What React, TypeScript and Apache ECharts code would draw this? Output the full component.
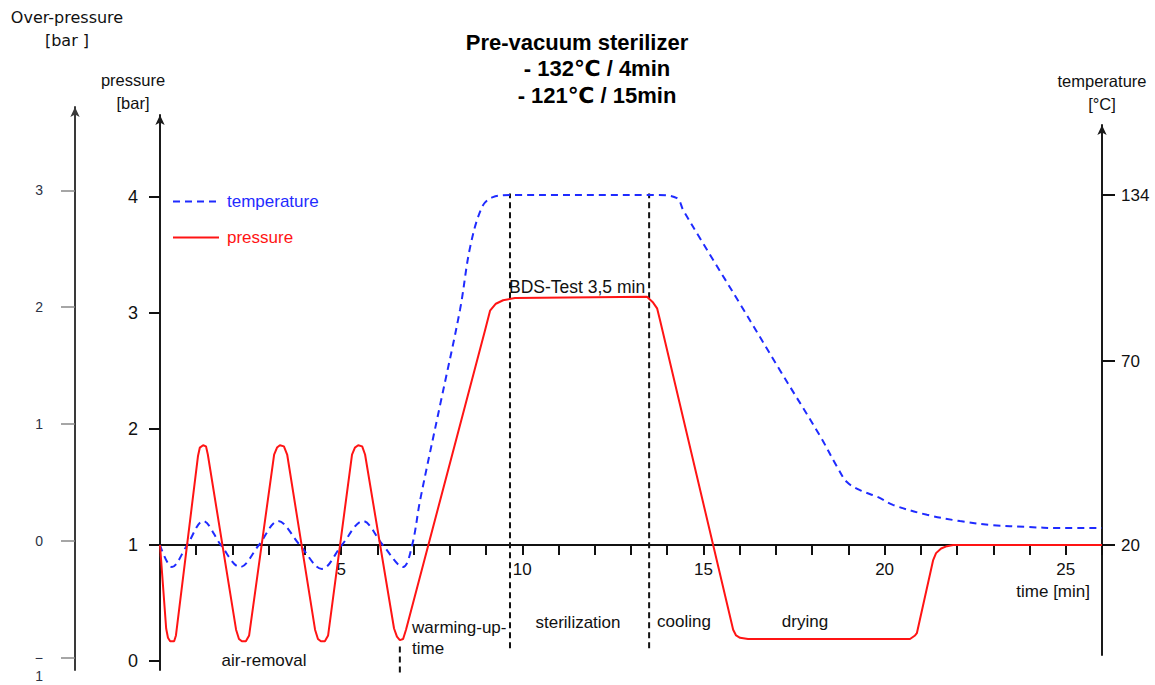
import React, { useEffect, useRef } from "react";
import * as echarts from "echarts";

// ---- data ----
const pressureTicks = [0, 1, 2, 3, 4];
const overPressureTicks = [-1, 0, 1, 2, 3];
const timeLabels = [5, 10, 15, 20, 25];
const temperatureTicks = [20, 70, 134];

// [time min, pressure bar]
const pressureCurve = [
  [0, 1.0], [0.17, 0.28], [0.22, 0.2], [0.28, 0.17], [0.39, 0.17], [0.44, 0.22],
  [1.05, 1.77], [1.1, 1.84], [1.19, 1.86], [1.27, 1.85], [1.32, 1.78],
  [2.1, 0.27], [2.18, 0.19], [2.26, 0.17], [2.37, 0.17], [2.46, 0.22],
  [3.15, 1.78], [3.23, 1.84], [3.31, 1.86], [3.42, 1.85], [3.51, 1.78],
  [4.28, 0.27], [4.36, 0.19], [4.44, 0.17], [4.55, 0.17], [4.64, 0.22],
  [5.3, 1.78], [5.38, 1.84], [5.47, 1.86], [5.58, 1.85], [5.66, 1.78],
  [6.46, 0.28], [6.54, 0.21], [6.62, 0.18], [6.71, 0.19], [6.79, 0.27],
  [8.97, 2.85], [9.11, 3.02], [9.27, 3.08], [9.47, 3.11], [9.8, 3.13],
  [13.44, 3.14], [13.61, 3.09], [13.72, 3.04], [13.8, 2.94],
  [15.82, 0.27], [15.9, 0.22], [16.01, 0.2], [16.23, 0.19],
  [20.7, 0.19], [20.84, 0.22], [20.89, 0.24], [21.34, 0.87], [21.42, 0.93],
  [21.56, 0.97], [21.72, 0.99], [21.89, 1.0], [26, 1.0],
];

// [time min, temperature °C]
const temperatureCurve = [
  [0, 20], [0.33, 14.0], [0.75, 20], [1.19, 26.5], [1.68, 20], [2.21, 14.0],
  [2.73, 20], [3.26, 26.5], [3.86, 20], [4.47, 13.5], [5.02, 20], [5.6, 26.5],
  [6.15, 20], [6.71, 14.0], [6.96, 20], [7.18, 32.2], [7.73, 58.0], [8.28, 89.7],
  [8.56, 113.9], [8.89, 129.4], [9.19, 133.2], [9.66, 134], [13.72, 134],
  [14.27, 132.8], [14.44, 128.2], [14.9, 117.4], [16.01, 92.0], [17.11, 67.5],
  [18.22, 49.6], [18.69, 41.2], [18.96, 37.1], [19.32, 34.9], [19.82, 33.0],
  [20.23, 30.9], [21.17, 28.2], [22.08, 26.5], [22.99, 25.4], [23.93, 24.9],
  [24.84, 24.6], [26, 24.6],
];

// phase boundaries: [time min, from bar, to bar]
const phaseBoundaries = [
  [6.62, -0.1, 0.155],
  [9.66, 0.11, 4.03],
  [13.5, 0.11, 4.03],
];

const phaseNames = ["air-removal", "warming-up-\ntime", "sterilization", "cooling", "drying"];
const bdsLabel = "BDS-Test 3,5 min";

// ---- styling / layout ----
const BLUE = "#1f2bff";
const RED = "#ff1414";
const SANS = '"Liberation Sans", Arial, sans-serif';
const TITLE_FONT = '"Liberation Sans", "DejaVu Sans", sans-serif';

// The temperature axis of the original is schematic (non-linear): anchor ticks at these axis units
const tempAnchorUnits = [0, 184, 350];
function tempToAxis(t: number): number {
  const a = temperatureTicks;
  const u = tempAnchorUnits;
  if (t <= a[1]) return u[0] + ((t - a[0]) * (u[1] - u[0])) / (a[1] - a[0]);
  return u[1] + ((t - a[1]) * (u[2] - u[1])) / (a[2] - a[1]);
}

export default function App() {
  const ref = useRef<HTMLDivElement>(null);

  useEffect(() => {
    if (!ref.current) return;
    const chart = echarts.init(ref.current, undefined, { renderer: "svg" });

    const tickText = (size: number, color = "#111") => ({ fontSize: size, color, fontFamily: SANS });

    const phaseSeries = phaseBoundaries.map((b, i) => ({
      name: "phase" + i,
      type: "line",
      xAxisIndex: 0,
      yAxisIndex: 0,
      data: [[b[0], b[1]], [b[0], b[2]]],
      symbol: "none",
      clip: false,
      silent: true,
      lineStyle: { color: "#111", width: 2, type: [6, 4] },
      z: 1,
    }));

    const textEl = (x: number, y: number, text: string, align: string, extra: any = {}) => ({
      type: "text",
      x,
      y,
      silent: true,
      style: {
        text,
        fill: "#111",
        font: `17px ${SANS}`,
        align,
        textAlign: align,
        verticalAlign: "middle",
        textVerticalAlign: "middle",
        ...extra,
      },
    });

    const titleStyle = { fontSize: 22, fontWeight: "bold", color: "#000", fontFamily: TITLE_FONT };

    const option: any = {
      animation: false,
      backgroundColor: "#ffffff",
      title: [
        {
          text: "Pre-vacuum sterilizer",
          left: 577,
          top: 31,
          textAlign: "center",
          padding: 0,
          textStyle: { ...titleStyle, lineHeight: 22 },
        },
        {
          text: "- 132℃ / 4min\n- 121℃ / 15min",
          left: 597,
          top: 55,
          textAlign: "center",
          padding: 0,
          textStyle: { ...titleStyle, lineHeight: 27 },
        },
      ],
      legend: {
        orient: "vertical",
        left: 167,
        top: 188,
        itemWidth: 46,
        itemHeight: 14,
        itemGap: 19,
        itemStyle: { opacity: 0 },
        textStyle: { fontSize: 17, fontFamily: SANS, padding: [0, 0, 0, 3] },
        data: [
          { name: "temperature", textStyle: { color: BLUE } },
          { name: "pressure", textStyle: { color: RED } },
        ],
      },
      grid: [
        { left: 160, right: 53, top: 115, bottom: 15 },
        { left: 160, right: 53, top: 115, bottom: 140 },
        { left: 160, right: 53, top: 125, bottom: 30 },
        { left: 75, width: 20, top: 107, bottom: 10 },
      ],
      xAxis: [
        { gridIndex: 0, type: "value", min: 0, max: 26, show: false },
        {
          gridIndex: 1,
          type: "value",
          min: 0,
          max: 26,
          interval: 1,
          position: "bottom",
          axisLine: { onZero: false, lineStyle: { color: "#111", width: 2 } },
          axisTick: { show: true, length: 10, lineStyle: { color: "#111", width: 2 } },
          axisLabel: { customValues: timeLabels, margin: 16, ...tickText(17) },
          splitLine: { show: false },
          name: "time [min]",
          nameLocation: "end",
          nameGap: -12,
          nameTextStyle: {
            fontSize: 17,
            fontFamily: SANS,
            color: "#111",
            align: "right",
            verticalAlign: "top",
            padding: [38, 0, 0, 0],
          },
        },
        { gridIndex: 2, type: "value", min: 0, max: 26, show: false },
        { gridIndex: 3, type: "value", min: 0, max: 1, show: false },
      ],
      yAxis: [
        {
          gridIndex: 0,
          type: "value",
          position: "left",
          min: -0.0776,
          max: 4.707,
          axisLine: {
            show: true,
            onZero: false,
            symbol: ["none", "arrow"],
            symbolSize: [7, 10],
            lineStyle: { color: "#1a1a1a", width: 2 },
          },
          axisTick: { show: true, length: 11, customValues: pressureTicks, lineStyle: { color: "#111", width: 2 } },
          axisLabel: { customValues: pressureTicks, margin: 22, ...tickText(18) },
          splitLine: { show: false },
          name: "pressure\n[bar]",
          nameLocation: "end",
          nameGap: 1,
          nameTextStyle: {
            fontSize: 16.5,
            fontFamily: SANS,
            color: "#111",
            lineHeight: 23,
            align: "center",
            verticalAlign: "bottom",
            padding: [0, 54, 0, 0],
          },
        },
        { gridIndex: 1, type: "value", min: 0, max: 1, show: false },
        {
          gridIndex: 2,
          type: "value",
          position: "right",
          min: -110,
          max: 420,
          axisLine: {
            show: true,
            onZero: false,
            symbol: ["none", "arrow"],
            symbolSize: [7, 10],
            lineStyle: { color: "#1a1a1a", width: 2 },
          },
          axisTick: {
            show: true,
            length: 13,
            customValues: temperatureTicks.map(tempToAxis),
            lineStyle: { color: "#111", width: 2 },
          },
          axisLabel: {
            customValues: temperatureTicks.map(tempToAxis),
            margin: 19,
            formatter: (v: number) => {
              const i = temperatureTicks.findIndex((t) => Math.abs(tempToAxis(t) - v) < 0.5);
              return i >= 0 ? String(temperatureTicks[i]) : "";
            },
            ...tickText(17),
          },
          splitLine: { show: false },
          name: "temperature\n[°C]",
          nameLocation: "end",
          nameGap: 10,
          nameTextStyle: {
            fontSize: 16.5,
            fontFamily: SANS,
            color: "#111",
            lineHeight: 23,
            align: "center",
            verticalAlign: "bottom",
          },
        },
        {
          gridIndex: 3,
          type: "value",
          position: "left",
          min: -1.102,
          max: 3.712,
          axisLine: {
            show: true,
            onZero: false,
            symbol: ["none", "arrow"],
            symbolSize: [7, 10],
            lineStyle: { color: "#3a3a3a", width: 2 },
          },
          axisTick: { show: true, length: 14, customValues: overPressureTicks, lineStyle: { color: "#888", width: 1.5 } },
          axisLabel: {
            customValues: overPressureTicks,
            margin: 32,
            lineHeight: 18,
            formatter: (v: number) => (v < 0 ? "\n−\n" + String(-v) : String(v)),
            ...tickText(14, "#2b3245"),
          },
          splitLine: { show: false },
          name: "Over-pressure\n[bar ]",
          nameLocation: "end",
          nameGap: 55,
          nameTextStyle: {
            fontSize: 16,
            fontFamily: '"DejaVu Sans", sans-serif',
            color: "#111",
            lineHeight: 23,
            align: "center",
            verticalAlign: "bottom",
            padding: [0, 16, 0, 0],
          },
        },
      ],
      series: [
        {
          name: "temperature",
          type: "line",
          xAxisIndex: 2,
          yAxisIndex: 2,
          data: temperatureCurve.map(([t, c]) => [t, tempToAxis(c)]),
          smooth: 0.35,
          symbol: "none",
          lineStyle: { color: BLUE, width: 2, type: [7, 5] },
          itemStyle: { color: BLUE },
          z: 3,
        },
        {
          name: "pressure",
          type: "line",
          xAxisIndex: 0,
          yAxisIndex: 0,
          data: pressureCurve,
          symbol: "none",
          lineStyle: { color: RED, width: 2 },
          itemStyle: { color: RED },
          z: 4,
        },
        ...phaseSeries,
      ],
      graphic: [
        textEl(264, 660, phaseNames[0], "center"),
        textEl(412, 638, phaseNames[1], "left", { lineHeight: 21 }),
        textEl(578, 622, phaseNames[2], "center"),
        textEl(657, 621, phaseNames[3], "left"),
        textEl(805, 621, phaseNames[4], "center"),
        textEl(509, 287, bdsLabel, "left", { font: `17.5px ${SANS}` }),
      ],
    };

    chart.setOption(option);
    return () => chart.dispose();
  }, []);

  return (
    <div
      ref={ref}
      style={{ position: "fixed", left: 0, top: 0, width: 1155, height: 685, background: "#fff" }}
    />
  );
}
